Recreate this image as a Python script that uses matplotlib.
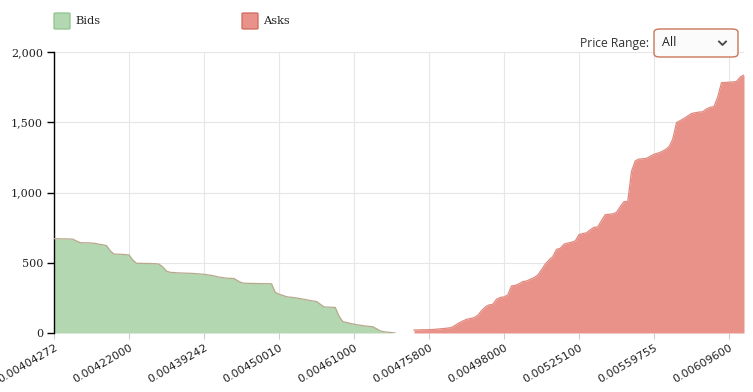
import matplotlib
matplotlib.use("Agg")
import matplotlib.pyplot as plt
import numpy as np
from matplotlib.patches import FancyBboxPatch
from matplotlib.lines import Line2D

# ---- data ----
tick_labels = ["0.00404272", "0.00422000", "0.00439242", "0.00450010", "0.00461000",
               "0.00475800", "0.00498000", "0.00525100", "0.00559755", "0.00609600"]
tick_step = 20
n_points = 185

bids = [671, 671, 670, 670, 669, 668, 655, 643, 642, 642, 640, 638,
        632, 628, 622, 585, 562, 561, 560, 558, 556,
        520, 496, 496, 495, 495, 494, 493, 490,
        470, 440, 432, 430, 428, 427, 426, 425, 424, 422, 420, 418,
        414, 410, 404, 398, 394, 390, 389, 388,
        372, 358, 354, 353, 353, 352, 352, 351, 351, 350,
        290, 276, 268, 258, 255, 252, 248, 243, 238, 233, 228, 224,
        205, 186, 184, 183, 182,
        120, 82, 75, 68, 63, 58, 54, 50, 47, 45,
        30, 15, 9, 6, 3, 0]
asks_start = 96
asks = [21, 22, 23, 23, 24, 25, 27, 30, 32, 35, 39,
        55, 72, 85, 97, 103, 109, 125, 159, 185, 200, 204,
        240, 253, 257, 270, 335, 339, 350, 366, 370, 382, 394,
        412, 450, 490, 520, 543, 595, 603, 632, 640, 646, 655,
        700, 708, 713, 735, 752, 755, 800, 842, 845, 848, 858,
        900, 935, 936, 1150, 1225, 1238, 1240, 1243, 1258, 1272,
        1280, 1290, 1305, 1325, 1380, 1497, 1512, 1527, 1545, 1562,
        1568, 1572, 1575, 1595, 1606, 1612, 1680, 1782, 1783, 1785,
        1787, 1790, 1822, 1836]

W, H = 753, 392
fig = plt.figure(figsize=(W / 100, H / 100), dpi=100)
ax = fig.add_axes([54 / W, (H - 333) / H, (744 - 54) / W, (333 - 52) / H])

bx = np.arange(len(bids))
axx = np.arange(asks_start, asks_start + len(asks))

green_fill = "#b3d7b1"
green_edge = "#b7a88e"
red_fill = "#e8928a"
red_edge = "#e08a80"

ax.fill_between(bx, bids, 0, color=green_fill, lw=0, zorder=2)
ax.plot(bx, bids, color=green_edge, lw=0.9, zorder=3)
ax.fill_between(axx, asks, 0, color=red_fill, lw=0, zorder=2)
ax.plot(axx, asks, color=red_edge, lw=0.9, zorder=3)

ax.set_xlim(0, n_points - 1)
ax.set_ylim(0, 2000)

ticks = np.arange(0, tick_step * len(tick_labels), tick_step)
ax.set_xticks(ticks)
ax.set_xticklabels(tick_labels, rotation=30, ha="right", va="top",
                   rotation_mode="anchor", fontsize=8, family="DejaVu Sans",
                   color="#222222")
ax.set_yticks([0, 500, 1000, 1500, 2000])
ax.set_yticklabels(["0", "500", "1,000", "1,500", "2,000"], fontsize=8,
                   family="DejaVu Serif", color="#222222")

ax.grid(True, color="#e6e6e6", lw=0.8, zorder=0)
ax.set_axisbelow(True)
for s in ["top", "right", "bottom"]:
    ax.spines[s].set_visible(False)
ax.spines["left"].set_color("black")
ax.spines["left"].set_linewidth(1.0)
ax.tick_params(axis="y", length=5, width=1, color="black", pad=3)
ax.tick_params(axis="x", length=4, width=0.8, color="#cccccc", pad=3)

# ---- legend ----
def fx(px):
    return px / W

def fy(py):
    return 1 - py / H

fig.patches.append(FancyBboxPatch((fx(54), fy(29)), 16 / W, 16 / H,
                                  boxstyle="round,pad=0,rounding_size=0.002",
                                  transform=fig.transFigure, facecolor=green_fill,
                                  edgecolor="#8cc48a", lw=0.9))
fig.text(fx(75), fy(21), "Bids", fontsize=8.2, family="DejaVu Serif",
         va="center", ha="left", color="#222222")
fig.patches.append(FancyBboxPatch((fx(242), fy(29)), 16 / W, 16 / H,
                                  boxstyle="round,pad=0,rounding_size=0.002",
                                  transform=fig.transFigure, facecolor=red_fill,
                                  edgecolor="#d0675c", lw=0.9))
fig.text(fx(263), fy(21), "Asks", fontsize=8.2, family="DejaVu Serif",
         va="center", ha="left", color="#222222")

# ---- price range selector ----
fig.text(fx(649), fy(43), "Price Range:", fontsize=8.7, family="Open Sans",
         va="center", ha="right", color="#333333")
fig.patches.append(FancyBboxPatch((fx(654), fy(57)), 84 / W, 28 / H,
                                  boxstyle="round,pad=0,rounding_size=0.008",
                                  transform=fig.transFigure, facecolor="#fbfbfb",
                                  edgecolor="#c8765a", lw=1.0))
fig.text(fx(662), fy(43), "All", fontsize=9, family="Open Sans",
         va="center", ha="left", color="#222222")
fig.lines.append(Line2D([fx(719), fx(722.5), fx(726)], [fy(41.5), fy(45), fy(41.5)],
                        transform=fig.transFigure, color="#444444", lw=1.3))

fig.savefig("out.png", dpi=100)
